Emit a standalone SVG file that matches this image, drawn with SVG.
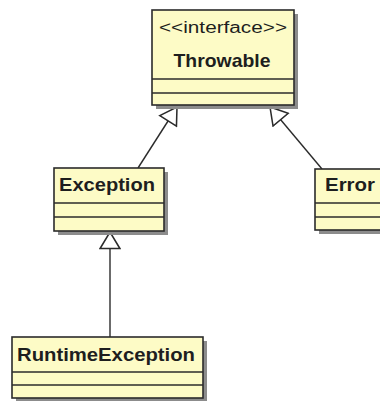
<svg xmlns="http://www.w3.org/2000/svg" width="380" height="401" viewBox="0 0 380 401">
<defs>
<style>
.shadow{fill:#8c8c8c;}
.box{fill:#fdfbc6;stroke:#2b2b2b;stroke-width:1.6;}
.sep{stroke:#2b2b2b;stroke-width:1.6;}
.name{font-family:"Liberation Sans",Arial,sans-serif;font-weight:bold;font-size:19px;fill:#1e1e1e;}
.stereo{font-family:"Liberation Sans",Arial,sans-serif;font-size:16px;fill:#1e1e1e;}
.conn{stroke:#2b2b2b;stroke-width:1.4;fill:none;}
</style>
<marker id="gen" markerUnits="userSpaceOnUse" markerWidth="20" markerHeight="22" viewBox="-1 -10 18 20" refX="15" refY="0" orient="auto">
<path d="M0,-9 L15,0 L0,9 Z" fill="#ffffff" stroke="#2b2b2b" stroke-width="1.4"/>
</marker>
</defs>
<rect width="380" height="401" fill="#ffffff"/>
<g id="connectors">
<line class="conn" x1="138" y1="168" x2="177" y2="107" marker-end="url(#gen)"/>
<line class="conn" x1="322" y1="169" x2="270" y2="107" marker-end="url(#gen)"/>
<line class="conn" x1="110" y1="337" x2="110" y2="232" marker-end="url(#gen)"/>
</g>
<g id="throwable">
<rect class="shadow" x="156" y="14" width="142" height="95"/>
<rect class="box" x="152" y="10" width="142" height="95"/>
<line class="sep" x1="152" y1="79" x2="294" y2="79"/>
<line class="sep" x1="152" y1="93" x2="294" y2="93"/>
<text class="stereo" x="223" y="33" text-anchor="middle" textLength="128" lengthAdjust="spacingAndGlyphs">&lt;&lt;interface&gt;&gt;</text>
<text class="name" x="222" y="67" text-anchor="middle" textLength="97" lengthAdjust="spacingAndGlyphs">Throwable</text>
</g>
<g id="exception">
<rect class="shadow" x="58" y="172" width="110" height="63"/>
<rect class="box" x="54" y="168" width="110" height="63"/>
<line class="sep" x1="54" y1="203" x2="164" y2="203"/>
<line class="sep" x1="54" y1="217" x2="164" y2="217"/>
<text class="name" x="59" y="191" textLength="96" lengthAdjust="spacingAndGlyphs">Exception</text>
</g>
<g id="error">
<rect class="shadow" x="319" y="173" width="70" height="61"/>
<rect class="box" x="315" y="169" width="70" height="61"/>
<line class="sep" x1="315" y1="203" x2="385" y2="203"/>
<line class="sep" x1="315" y1="217" x2="385" y2="217"/>
<text class="name" x="325" y="191" textLength="50" lengthAdjust="spacingAndGlyphs">Error</text>
</g>
<g id="runtimeexception">
<rect class="shadow" x="16" y="341" width="191" height="61"/>
<rect class="box" x="12" y="337" width="191" height="61"/>
<line class="sep" x1="12" y1="372" x2="203" y2="372"/>
<line class="sep" x1="12" y1="385" x2="203" y2="385"/>
<text class="name" x="17" y="361" textLength="178" lengthAdjust="spacingAndGlyphs">RuntimeException</text>
</g>
</svg>
